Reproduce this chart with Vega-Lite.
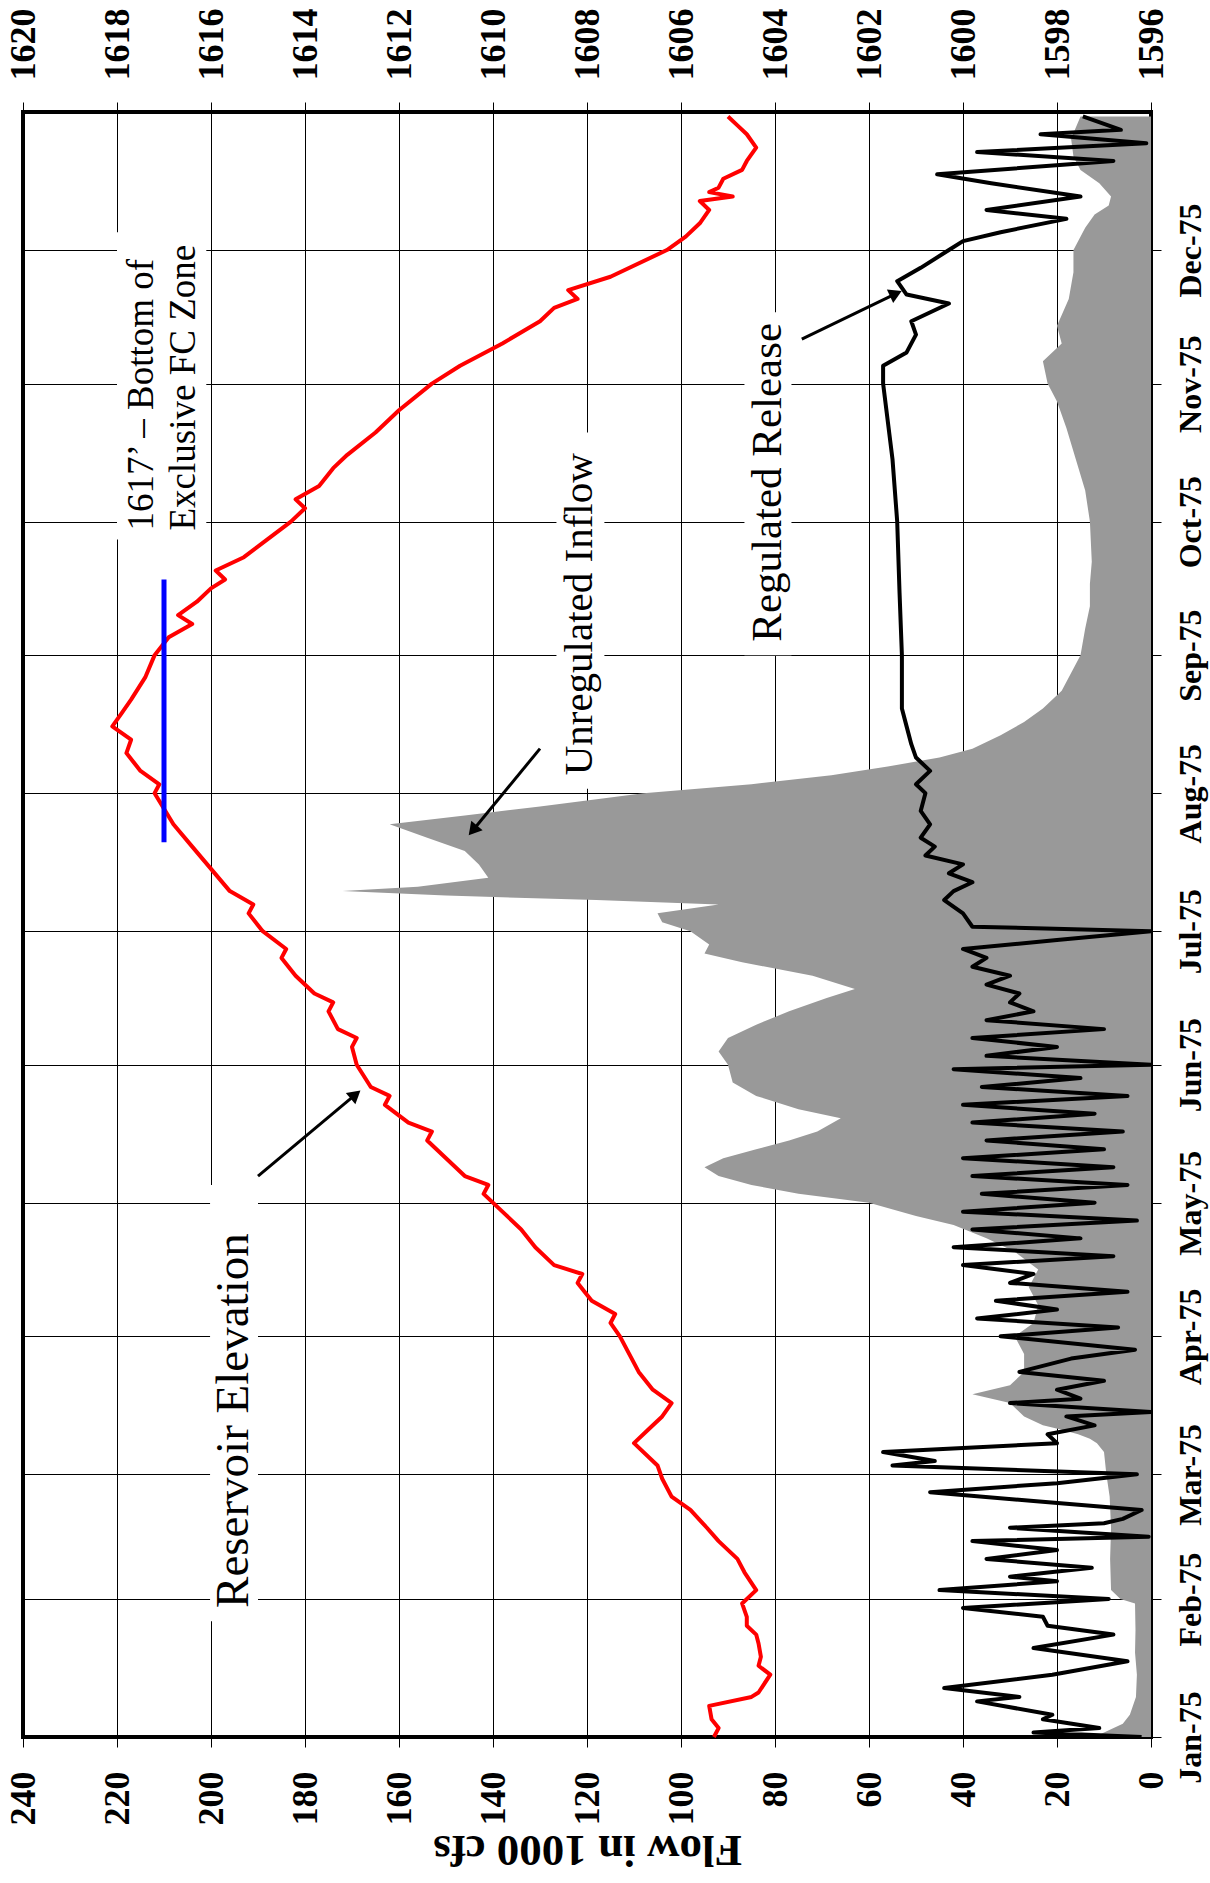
{
  "$schema": "https://vega.github.io/schema/vega-lite/v6.json",
  "width": 1128,
  "height": 1625,
  "autosize": {"type": "none"},
  "padding": {"left": 23, "top": 112, "right": 59, "bottom": 146},
  "background": "white",
  "config": {
    "view": {"stroke": "black", "strokeWidth": 4},
    "font": "Liberation Serif",
    "text": {"font": "Liberation Serif"}
  },
  "datasets": {
    "inflow": [
      {"date": "1975-01-01", "flow": 12}, {"date": "1975-01-02", "flow": 10}, {"date": "1975-01-04", "flow": 6}, {"date": "1975-01-06", "flow": 4.5},
      {"date": "1975-01-10", "flow": 3.2}, {"date": "1975-01-15", "flow": 3.0}, {"date": "1975-01-20", "flow": 3.4}, {"date": "1975-01-25", "flow": 3.3},
      {"date": "1975-01-31", "flow": 3.4}, {"date": "1975-02-01", "flow": 6.5}, {"date": "1975-02-03", "flow": 8.5}, {"date": "1975-02-10", "flow": 8.7},
      {"date": "1975-02-17", "flow": 8.5}, {"date": "1975-02-24", "flow": 8.8}, {"date": "1975-03-01", "flow": 9.5}, {"date": "1975-03-06", "flow": 10},
      {"date": "1975-03-08", "flow": 11.5}, {"date": "1975-03-09", "flow": 13}, {"date": "1975-03-10", "flow": 15.5}, {"date": "1975-03-11", "flow": 19},
      {"date": "1975-03-12", "flow": 23}, {"date": "1975-03-14", "flow": 27}, {"date": "1975-03-17", "flow": 30}, {"date": "1975-03-19", "flow": 38},
      {"date": "1975-03-21", "flow": 30}, {"date": "1975-03-24", "flow": 27}, {"date": "1975-03-28", "flow": 27}, {"date": "1975-04-01", "flow": 29},
      {"date": "1975-04-04", "flow": 25}, {"date": "1975-04-08", "flow": 24}, {"date": "1975-04-12", "flow": 26}, {"date": "1975-04-16", "flow": 24},
      {"date": "1975-04-20", "flow": 29}, {"date": "1975-04-23", "flow": 35}, {"date": "1975-04-26", "flow": 42}, {"date": "1975-04-28", "flow": 50},
      {"date": "1975-05-01", "flow": 60}, {"date": "1975-05-03", "flow": 75}, {"date": "1975-05-05", "flow": 85}, {"date": "1975-05-07", "flow": 92},
      {"date": "1975-05-09", "flow": 95}, {"date": "1975-05-11", "flow": 91}, {"date": "1975-05-13", "flow": 84}, {"date": "1975-05-15", "flow": 77},
      {"date": "1975-05-17", "flow": 71}, {"date": "1975-05-20", "flow": 66}, {"date": "1975-05-22", "flow": 75}, {"date": "1975-05-25", "flow": 84},
      {"date": "1975-05-28", "flow": 89}, {"date": "1975-06-01", "flow": 90}, {"date": "1975-06-04", "flow": 92}, {"date": "1975-06-07", "flow": 90},
      {"date": "1975-06-10", "flow": 84}, {"date": "1975-06-13", "flow": 77}, {"date": "1975-06-16", "flow": 69}, {"date": "1975-06-18", "flow": 63},
      {"date": "1975-06-21", "flow": 72}, {"date": "1975-06-24", "flow": 87}, {"date": "1975-06-26", "flow": 95}, {"date": "1975-06-28", "flow": 94},
      {"date": "1975-07-01", "flow": 98}, {"date": "1975-07-03", "flow": 104}, {"date": "1975-07-05", "flow": 105}, {"date": "1975-07-07", "flow": 92},
      {"date": "1975-07-08", "flow": 118}, {"date": "1975-07-09", "flow": 150}, {"date": "1975-07-10", "flow": 172}, {"date": "1975-07-11", "flow": 156},
      {"date": "1975-07-13", "flow": 141}, {"date": "1975-07-16", "flow": 143}, {"date": "1975-07-19", "flow": 146}, {"date": "1975-07-22", "flow": 154},
      {"date": "1975-07-25", "flow": 162}, {"date": "1975-07-27", "flow": 146}, {"date": "1975-07-29", "flow": 130}, {"date": "1975-08-01", "flow": 108},
      {"date": "1975-08-03", "flow": 85}, {"date": "1975-08-05", "flow": 68}, {"date": "1975-08-07", "flow": 56}, {"date": "1975-08-09", "flow": 45},
      {"date": "1975-08-11", "flow": 38}, {"date": "1975-08-14", "flow": 32}, {"date": "1975-08-17", "flow": 27}, {"date": "1975-08-20", "flow": 23},
      {"date": "1975-08-24", "flow": 19}, {"date": "1975-08-28", "flow": 17}, {"date": "1975-09-01", "flow": 15}, {"date": "1975-09-07", "flow": 14},
      {"date": "1975-09-12", "flow": 13}, {"date": "1975-09-17", "flow": 13}, {"date": "1975-09-22", "flow": 12.6}, {"date": "1975-10-01", "flow": 13},
      {"date": "1975-10-08", "flow": 14}, {"date": "1975-10-15", "flow": 16}, {"date": "1975-10-22", "flow": 18}, {"date": "1975-10-28", "flow": 20},
      {"date": "1975-11-01", "flow": 22}, {"date": "1975-11-06", "flow": 23}, {"date": "1975-11-10", "flow": 19}, {"date": "1975-11-14", "flow": 20},
      {"date": "1975-11-20", "flow": 17.5}, {"date": "1975-11-26", "flow": 16.5}, {"date": "1975-12-01", "flow": 16.5}, {"date": "1975-12-06", "flow": 14},
      {"date": "1975-12-09", "flow": 12}, {"date": "1975-12-11", "flow": 9}, {"date": "1975-12-13", "flow": 8.5}, {"date": "1975-12-16", "flow": 11},
      {"date": "1975-12-19", "flow": 15}, {"date": "1975-12-22", "flow": 16.5}, {"date": "1975-12-26", "flow": 17}, {"date": "1975-12-31", "flow": 15}
    ],
    "release": [
      {"date": "1975-01-01", "flow": 2}, {"date": "1975-01-02", "flow": 25}, {"date": "1975-01-03", "flow": 11}, {"date": "1975-01-05", "flow": 23},
      {"date": "1975-01-06", "flow": 21}, {"date": "1975-01-09", "flow": 37}, {"date": "1975-01-10", "flow": 28}, {"date": "1975-01-12", "flow": 44},
      {"date": "1975-01-15", "flow": 21}, {"date": "1975-01-18", "flow": 5}, {"date": "1975-01-21", "flow": 25}, {"date": "1975-01-24", "flow": 8},
      {"date": "1975-01-26", "flow": 22}, {"date": "1975-01-28", "flow": 23}, {"date": "1975-01-30", "flow": 40}, {"date": "1975-02-01", "flow": 9},
      {"date": "1975-02-03", "flow": 45}, {"date": "1975-02-05", "flow": 20}, {"date": "1975-02-06", "flow": 30}, {"date": "1975-02-08", "flow": 12.6},
      {"date": "1975-02-10", "flow": 35}, {"date": "1975-02-12", "flow": 20}, {"date": "1975-02-14", "flow": 38}, {"date": "1975-02-15", "flow": 0.5},
      {"date": "1975-02-17", "flow": 30}, {"date": "1975-02-18", "flow": 10}, {"date": "1975-02-19", "flow": 6}, {"date": "1975-02-21", "flow": 2},
      {"date": "1975-02-23", "flow": 25}, {"date": "1975-02-25", "flow": 47}, {"date": "1975-02-27", "flow": 20}, {"date": "1975-03-01", "flow": 3},
      {"date": "1975-03-03", "flow": 55}, {"date": "1975-03-04", "flow": 46}, {"date": "1975-03-06", "flow": 57}, {"date": "1975-03-08", "flow": 20},
      {"date": "1975-03-10", "flow": 22}, {"date": "1975-03-12", "flow": 12}, {"date": "1975-03-14", "flow": 18}, {"date": "1975-03-15", "flow": 0},
      {"date": "1975-03-17", "flow": 30}, {"date": "1975-03-18", "flow": 15}, {"date": "1975-03-20", "flow": 20}, {"date": "1975-03-22", "flow": 10},
      {"date": "1975-03-24", "flow": 28}, {"date": "1975-03-27", "flow": 17}, {"date": "1975-03-29", "flow": 3.4}, {"date": "1975-04-01", "flow": 32},
      {"date": "1975-04-03", "flow": 7}, {"date": "1975-04-05", "flow": 37}, {"date": "1975-04-07", "flow": 20}, {"date": "1975-04-09", "flow": 33},
      {"date": "1975-04-11", "flow": 5}, {"date": "1975-04-13", "flow": 30}, {"date": "1975-04-15", "flow": 25}, {"date": "1975-04-17", "flow": 40},
      {"date": "1975-04-19", "flow": 8}, {"date": "1975-04-21", "flow": 42}, {"date": "1975-04-23", "flow": 15}, {"date": "1975-04-25", "flow": 38},
      {"date": "1975-04-27", "flow": 3}, {"date": "1975-04-29", "flow": 40}, {"date": "1975-05-01", "flow": 12}, {"date": "1975-05-03", "flow": 36},
      {"date": "1975-05-05", "flow": 5}, {"date": "1975-05-07", "flow": 38}, {"date": "1975-05-09", "flow": 8}, {"date": "1975-05-11", "flow": 40},
      {"date": "1975-05-13", "flow": 10}, {"date": "1975-05-15", "flow": 35}, {"date": "1975-05-17", "flow": 6}, {"date": "1975-05-19", "flow": 38},
      {"date": "1975-05-21", "flow": 12}, {"date": "1975-05-23", "flow": 40}, {"date": "1975-05-25", "flow": 5}, {"date": "1975-05-27", "flow": 36},
      {"date": "1975-05-29", "flow": 15}, {"date": "1975-05-31", "flow": 42}, {"date": "1975-06-01", "flow": 0}, {"date": "1975-06-03", "flow": 35},
      {"date": "1975-06-05", "flow": 20}, {"date": "1975-06-07", "flow": 38}, {"date": "1975-06-09", "flow": 10}, {"date": "1975-06-11", "flow": 35},
      {"date": "1975-06-13", "flow": 25}, {"date": "1975-06-15", "flow": 30}, {"date": "1975-06-17", "flow": 28}, {"date": "1975-06-19", "flow": 35},
      {"date": "1975-06-21", "flow": 30}, {"date": "1975-06-23", "flow": 38}, {"date": "1975-06-25", "flow": 35}, {"date": "1975-06-27", "flow": 40},
      {"date": "1975-06-29", "flow": 20}, {"date": "1975-07-01", "flow": 0}, {"date": "1975-07-02", "flow": 38}, {"date": "1975-07-05", "flow": 40},
      {"date": "1975-07-08", "flow": 44}, {"date": "1975-07-10", "flow": 42}, {"date": "1975-07-12", "flow": 38}, {"date": "1975-07-14", "flow": 43},
      {"date": "1975-07-16", "flow": 40}, {"date": "1975-07-18", "flow": 48}, {"date": "1975-07-20", "flow": 46}, {"date": "1975-07-22", "flow": 49},
      {"date": "1975-07-25", "flow": 47}, {"date": "1975-07-28", "flow": 49}, {"date": "1975-08-01", "flow": 48}, {"date": "1975-08-03", "flow": 50},
      {"date": "1975-08-06", "flow": 47}, {"date": "1975-08-09", "flow": 50}, {"date": "1975-08-12", "flow": 51}, {"date": "1975-08-16", "flow": 52},
      {"date": "1975-08-20", "flow": 53}, {"date": "1975-09-01", "flow": 53}, {"date": "1975-09-15", "flow": 53.5}, {"date": "1975-10-01", "flow": 54},
      {"date": "1975-10-15", "flow": 55}, {"date": "1975-11-01", "flow": 57}, {"date": "1975-11-05", "flow": 57}, {"date": "1975-11-08", "flow": 52},
      {"date": "1975-11-12", "flow": 50}, {"date": "1975-11-15", "flow": 51}, {"date": "1975-11-19", "flow": 43}, {"date": "1975-11-21", "flow": 52},
      {"date": "1975-11-24", "flow": 54}, {"date": "1975-11-27", "flow": 49}, {"date": "1975-12-01", "flow": 43}, {"date": "1975-12-03", "flow": 40},
      {"date": "1975-12-05", "flow": 32}, {"date": "1975-12-08", "flow": 18}, {"date": "1975-12-10", "flow": 35}, {"date": "1975-12-13", "flow": 15},
      {"date": "1975-12-16", "flow": 34}, {"date": "1975-12-18", "flow": 45.5}, {"date": "1975-12-21", "flow": 8}, {"date": "1975-12-23", "flow": 37},
      {"date": "1975-12-25", "flow": 1}, {"date": "1975-12-27", "flow": 23.5}, {"date": "1975-12-28", "flow": 6.4}, {"date": "1975-12-31", "flow": 14.5}
    ],
    "elevation": [
      {"date": "1975-01-01", "elev": 1605.3}, {"date": "1975-01-03", "elev": 1605.2}, {"date": "1975-01-05", "elev": 1605.35}, {"date": "1975-01-08", "elev": 1605.4},
      {"date": "1975-01-10", "elev": 1604.5}, {"date": "1975-01-11", "elev": 1604.35}, {"date": "1975-01-15", "elev": 1604.1}, {"date": "1975-01-17", "elev": 1604.35},
      {"date": "1975-01-19", "elev": 1604.3}, {"date": "1975-01-22", "elev": 1604.35}, {"date": "1975-01-24", "elev": 1604.4}, {"date": "1975-01-26", "elev": 1604.6},
      {"date": "1975-01-28", "elev": 1604.6}, {"date": "1975-01-31", "elev": 1604.7}, {"date": "1975-02-03", "elev": 1604.4}, {"date": "1975-02-07", "elev": 1604.65},
      {"date": "1975-02-10", "elev": 1604.8}, {"date": "1975-02-14", "elev": 1605.2}, {"date": "1975-02-17", "elev": 1605.45}, {"date": "1975-02-21", "elev": 1605.8},
      {"date": "1975-02-24", "elev": 1606.2}, {"date": "1975-02-28", "elev": 1606.4}, {"date": "1975-03-03", "elev": 1606.5}, {"date": "1975-03-08", "elev": 1607.0},
      {"date": "1975-03-11", "elev": 1606.7}, {"date": "1975-03-14", "elev": 1606.4}, {"date": "1975-03-17", "elev": 1606.2}, {"date": "1975-03-20", "elev": 1606.6},
      {"date": "1975-03-24", "elev": 1606.9}, {"date": "1975-03-28", "elev": 1607.1}, {"date": "1975-04-01", "elev": 1607.3}, {"date": "1975-04-04", "elev": 1607.5},
      {"date": "1975-04-06", "elev": 1607.4}, {"date": "1975-04-09", "elev": 1607.9}, {"date": "1975-04-13", "elev": 1608.2}, {"date": "1975-04-15", "elev": 1608.1},
      {"date": "1975-04-17", "elev": 1608.7}, {"date": "1975-04-21", "elev": 1609.1}, {"date": "1975-04-25", "elev": 1609.4}, {"date": "1975-04-29", "elev": 1609.8},
      {"date": "1975-05-03", "elev": 1610.2}, {"date": "1975-05-05", "elev": 1610.1}, {"date": "1975-05-07", "elev": 1610.6}, {"date": "1975-05-11", "elev": 1611.0},
      {"date": "1975-05-15", "elev": 1611.4}, {"date": "1975-05-17", "elev": 1611.3}, {"date": "1975-05-19", "elev": 1611.8}, {"date": "1975-05-23", "elev": 1612.3},
      {"date": "1975-05-25", "elev": 1612.2}, {"date": "1975-05-27", "elev": 1612.6}, {"date": "1975-06-01", "elev": 1612.9}, {"date": "1975-06-05", "elev": 1613.0},
      {"date": "1975-06-07", "elev": 1612.9}, {"date": "1975-06-09", "elev": 1613.3}, {"date": "1975-06-13", "elev": 1613.5}, {"date": "1975-06-15", "elev": 1613.4},
      {"date": "1975-06-17", "elev": 1613.8}, {"date": "1975-06-21", "elev": 1614.2}, {"date": "1975-06-25", "elev": 1614.5}, {"date": "1975-06-27", "elev": 1614.4},
      {"date": "1975-07-01", "elev": 1614.9}, {"date": "1975-07-05", "elev": 1615.2}, {"date": "1975-07-07", "elev": 1615.1}, {"date": "1975-07-10", "elev": 1615.6},
      {"date": "1975-07-15", "elev": 1616.0}, {"date": "1975-07-20", "elev": 1616.4}, {"date": "1975-07-25", "elev": 1616.8}, {"date": "1975-08-01", "elev": 1617.2},
      {"date": "1975-08-03", "elev": 1617.1}, {"date": "1975-08-06", "elev": 1617.5}, {"date": "1975-08-10", "elev": 1617.8}, {"date": "1975-08-13", "elev": 1617.7},
      {"date": "1975-08-16", "elev": 1618.1}, {"date": "1975-08-19", "elev": 1617.9}, {"date": "1975-08-22", "elev": 1617.7}, {"date": "1975-08-27", "elev": 1617.4},
      {"date": "1975-09-01", "elev": 1617.2}, {"date": "1975-09-05", "elev": 1616.9}, {"date": "1975-09-08", "elev": 1616.4}, {"date": "1975-09-10", "elev": 1616.7},
      {"date": "1975-09-13", "elev": 1616.3}, {"date": "1975-09-16", "elev": 1616.0}, {"date": "1975-09-18", "elev": 1615.7}, {"date": "1975-09-20", "elev": 1615.9},
      {"date": "1975-09-23", "elev": 1615.3}, {"date": "1975-09-27", "elev": 1614.8}, {"date": "1975-10-01", "elev": 1614.3}, {"date": "1975-10-04", "elev": 1614.0},
      {"date": "1975-10-06", "elev": 1614.2}, {"date": "1975-10-09", "elev": 1613.7}, {"date": "1975-10-13", "elev": 1613.4}, {"date": "1975-10-16", "elev": 1613.1},
      {"date": "1975-10-21", "elev": 1612.5}, {"date": "1975-10-26", "elev": 1612.0}, {"date": "1975-11-01", "elev": 1611.3}, {"date": "1975-11-05", "elev": 1610.7},
      {"date": "1975-11-10", "elev": 1609.8}, {"date": "1975-11-15", "elev": 1609.0}, {"date": "1975-11-18", "elev": 1608.7}, {"date": "1975-11-20", "elev": 1608.2},
      {"date": "1975-11-22", "elev": 1608.4}, {"date": "1975-11-25", "elev": 1607.5}, {"date": "1975-12-01", "elev": 1606.3}, {"date": "1975-12-04", "elev": 1605.9},
      {"date": "1975-12-07", "elev": 1605.6}, {"date": "1975-12-10", "elev": 1605.4}, {"date": "1975-12-12", "elev": 1605.6}, {"date": "1975-12-13", "elev": 1604.9},
      {"date": "1975-12-14", "elev": 1605.4}, {"date": "1975-12-15", "elev": 1605.2}, {"date": "1975-12-17", "elev": 1605.1}, {"date": "1975-12-19", "elev": 1604.7},
      {"date": "1975-12-21", "elev": 1604.6}, {"date": "1975-12-24", "elev": 1604.4}, {"date": "1975-12-27", "elev": 1604.6}, {"date": "1975-12-29", "elev": 1604.8},
      {"date": "1975-12-31", "elev": 1605.0}
    ],
    "fczone": [
      {"date": "1975-07-21", "date2": "1975-09-18", "elev": 1617}
    ],
    "labels": [
      {"group": "fc", "text": "1617’ – Bottom of", "flow": 214.7, "date": "1975-09-29"},
      {"group": "fc", "text": "Exclusive FC Zone", "flow": 205.8, "date": "1975-09-29"},
      {"group": "unreg", "text": "Unregulated Inflow", "flow": 121.5, "date": "1975-08-05"},
      {"group": "reg", "text": "Regulated Release", "flow": 81.5, "date": "1975-09-04"},
      {"group": "res", "text": "Reservoir Elevation", "flow": 195.1, "date": "1975-01-30"}
    ],
    "boxes": [
      {"name": "fc", "flow": 201, "flow2": 220, "date": "1975-09-27", "date2": "1975-12-05"},
      {"name": "unreg", "flow": 116.3, "flow2": 126.5, "date": "1975-08-02", "date2": "1975-10-21"},
      {"name": "reg", "flow": 76.5, "flow2": 86.5, "date": "1975-09-01", "date2": "1975-11-17"},
      {"name": "res", "flow": 190, "flow2": 200.2, "date": "1975-01-27", "date2": "1975-05-05"}
    ],
    "arrows": [
      {"name": "unreg", "flow": 130, "date": "1975-08-11", "flow2": 144, "date2": "1975-07-24"},
      {"name": "reg", "flow": 74.3, "date": "1975-11-11", "flow2": 54.7, "date2": "1975-11-21"},
      {"name": "res", "flow": 190, "date": "1975-05-07", "flow2": 169.6, "date2": "1975-05-25"}
    ]
  },
  "encoding": {
    "y": {
      "field": "date",
      "type": "temporal",
      "scale": {"type": "utc", "domain": [{"year": 1975, "month": 1, "date": 1, "utc": true}, {"year": 1976, "month": 1, "date": 1, "utc": true}], "nice": false},
      "axis": {
        "orient": "right",
        "title": null,
        "values": [
          {"year": 1975, "month": 1, "date": 1, "utc": true}, {"year": 1975, "month": 2, "date": 1, "utc": true},
          {"year": 1975, "month": 3, "date": 1, "utc": true}, {"year": 1975, "month": 4, "date": 1, "utc": true},
          {"year": 1975, "month": 5, "date": 1, "utc": true}, {"year": 1975, "month": 6, "date": 1, "utc": true},
          {"year": 1975, "month": 7, "date": 1, "utc": true}, {"year": 1975, "month": 8, "date": 1, "utc": true},
          {"year": 1975, "month": 9, "date": 1, "utc": true}, {"year": 1975, "month": 10, "date": 1, "utc": true},
          {"year": 1975, "month": 11, "date": 1, "utc": true}, {"year": 1975, "month": 12, "date": 1, "utc": true}
        ],
        "format": "%b-%y",
        "grid": true, "gridColor": "black", "gridWidth": 1, "gridOpacity": 1,
        "domain": false,
        "ticks": true, "tickSize": 10, "tickColor": "black", "tickWidth": 1,
        "labelAngle": 270, "labelAlign": "center", "labelBaseline": "top",
        "labelFont": "Liberation Serif", "labelFontWeight": "bold", "labelFontSize": 32, "labelColor": "black",
        "labelPadding": 14, "labelOverlap": false, "labelFlush": false
      }
    }
  },
  "layer": [
    {
      "encoding": {
        "x": {
          "field": "flow",
          "type": "quantitative",
          "scale": {"domain": [0, 240], "reverse": true, "nice": false, "zero": false},
          "axis": {
            "orient": "bottom",
            "values": [0, 20, 40, 60, 80, 100, 120, 140, 160, 180, 200, 220, 240],
            "grid": true, "gridColor": "black", "gridWidth": 1, "gridOpacity": 1,
            "domain": false,
            "ticks": true, "tickSize": 10, "tickColor": "black", "tickWidth": 1,
            "labelAngle": 270, "labelAlign": "right", "labelBaseline": "middle",
            "labelFont": "Liberation Serif", "labelFontWeight": "bold", "labelFontSize": 36, "labelColor": "black",
            "labelPadding": 24, "labelOverlap": false, "labelFlush": false,
            "title": "Flow in 1000 cfs",
            "titleFont": "Liberation Serif", "titleFontWeight": "bold", "titleFontSize": 45, "titleColor": "black",
            "titleAngle": 180, "titleX": 564, "titleY": 112, "titleAlign": "center", "titleBaseline": "middle"
          }
        }
      },
      "layer": [
        {
          "data": {"name": "boxes"},
          "mark": {"type": "rect", "color": "white", "opacity": 1},
          "encoding": {"x2": {"field": "flow2"}, "y2": {"field": "date2"}}
        },
        {
          "data": {"name": "inflow"},
          "mark": {"type": "area", "orient": "horizontal", "color": "#999999", "opacity": 1, "interpolate": "linear"}
        },
        {
          "data": {"name": "release"},
          "mark": {"type": "line", "orient": "horizontal", "color": "black", "strokeWidth": 4, "strokeJoin": "round"},
          "encoding": {"order": {"field": "date", "type": "temporal"}}
        },
        {
          "data": {"name": "labels"},
          "transform": [{"filter": "datum.group === 'fc'"}],
          "mark": {"type": "text", "angle": 270, "align": "left", "baseline": "middle", "font": "Liberation Serif", "fontSize": 37, "color": "black"},
          "encoding": {"text": {"field": "text"}}
        },
        {
          "data": {"name": "labels"},
          "transform": [{"filter": "datum.group === 'unreg'"}],
          "mark": {"type": "text", "angle": 270, "align": "left", "baseline": "middle", "font": "Liberation Serif", "fontSize": 41, "color": "black"},
          "encoding": {"text": {"field": "text"}}
        },
        {
          "data": {"name": "labels"},
          "transform": [{"filter": "datum.group === 'reg'"}],
          "mark": {"type": "text", "angle": 270, "align": "left", "baseline": "middle", "font": "Liberation Serif", "fontSize": 43, "color": "black"},
          "encoding": {"text": {"field": "text"}}
        },
        {
          "data": {"name": "labels"},
          "transform": [{"filter": "datum.group === 'res'"}],
          "mark": {"type": "text", "angle": 270, "align": "left", "baseline": "middle", "font": "Liberation Serif", "fontSize": 47, "color": "black"},
          "encoding": {"text": {"field": "text"}}
        },
        {
          "data": {"name": "arrows"},
          "mark": {"type": "rule", "color": "black", "strokeWidth": 3},
          "encoding": {"x2": {"field": "flow2"}, "y2": {"field": "date2"}}
        },
        {
          "data": {"name": "arrows"},
          "transform": [{"filter": "datum.name === 'unreg'"}],
          "mark": {"type": "point", "shape": "triangle", "filled": true, "color": "black", "opacity": 1, "size": 220, "angle": 220},
          "encoding": {"x": {"field": "flow2", "type": "quantitative"}, "y": {"field": "date2", "type": "temporal"}}
        },
        {
          "data": {"name": "arrows"},
          "transform": [{"filter": "datum.name === 'reg'"}],
          "mark": {"type": "point", "shape": "triangle", "filled": true, "color": "black", "opacity": 1, "size": 220, "angle": 65},
          "encoding": {"x": {"field": "flow2", "type": "quantitative"}, "y": {"field": "date2", "type": "temporal"}}
        },
        {
          "data": {"name": "arrows"},
          "transform": [{"filter": "datum.name === 'res'"}],
          "mark": {"type": "point", "shape": "triangle", "filled": true, "color": "black", "opacity": 1, "size": 220, "angle": 50},
          "encoding": {"x": {"field": "flow2", "type": "quantitative"}, "y": {"field": "date2", "type": "temporal"}}
        }
      ]
    },
    {
      "encoding": {
        "x": {
          "field": "elev",
          "type": "quantitative",
          "scale": {"domain": [1596, 1620], "reverse": true, "nice": false, "zero": false},
          "axis": {
            "orient": "top",
            "values": [1596, 1598, 1600, 1602, 1604, 1606, 1608, 1610, 1612, 1614, 1616, 1618, 1620],
            "grid": false,
            "domain": false,
            "ticks": true, "tickSize": 10, "tickColor": "black", "tickWidth": 1,
            "labelAngle": 270, "labelAlign": "left", "labelBaseline": "middle",
            "labelFont": "Liberation Serif", "labelFontWeight": "bold", "labelFontSize": 36, "labelColor": "black",
            "labelPadding": 22, "labelOverlap": false, "labelFlush": false,
            "format": "d",
            "title": null
          }
        }
      },
      "layer": [
        {
          "data": {"name": "elevation"},
          "mark": {"type": "line", "orient": "horizontal", "color": "#ff0000", "strokeWidth": 4, "strokeJoin": "round"},
          "encoding": {"order": {"field": "date", "type": "temporal"}}
        },
        {
          "data": {"name": "fczone"},
          "mark": {"type": "rule", "color": "#0000ff", "strokeWidth": 5},
          "encoding": {"y2": {"field": "date2"}}
        }
      ]
    }
  ],
  "resolve": {"scale": {"x": "independent"}}
}
